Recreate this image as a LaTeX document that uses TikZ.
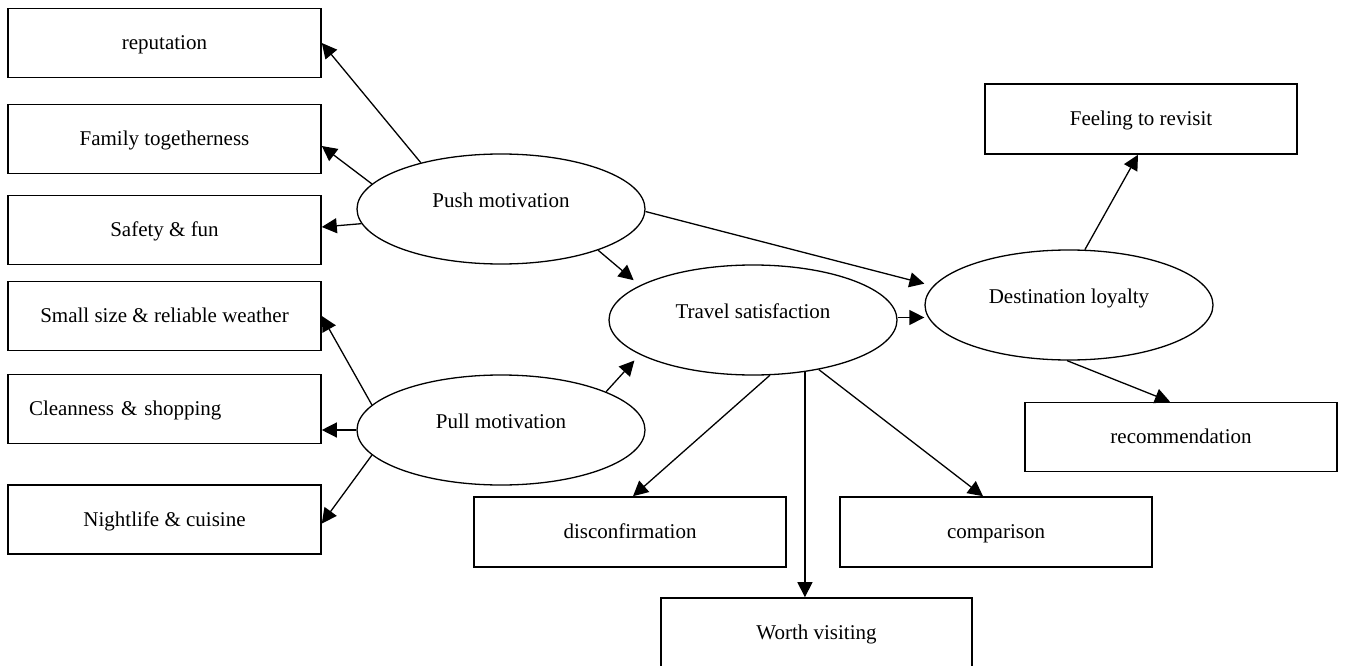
\documentclass[tikz,border=0pt]{standalone}
\usepackage{fontspec}
\setmainfont{Liberation Serif}
\usetikzlibrary{arrows.meta,shapes.geometric}
\begin{document}
\begin{tikzpicture}[x=1pt,y=-1pt,
  every node/.style={font=\fontsize{21}{25}\selectfont},
  itembox/.style={draw, rectangle, line width=1.6pt, minimum width=313pt,
    minimum height=69pt, inner sep=0pt, text height=17.5pt, text depth=4.5pt},
  construct/.style={draw, ellipse, line width=1.3pt, minimum width=288pt,
    minimum height=110pt, inner sep=0pt, text height=15.5pt, text depth=18pt},
  link/.style={line width=1.3pt, -{Triangle[length=15pt,width=15pt]}}]
\useasboundingbox (0,0) rectangle (1346,666);
\clip (0,0) rectangle (1346,666);

% indicator boxes on the left
\node[itembox] (rep)   at (164.5,43)    {reputation};
\node[itembox] (fam)   at (164.5,139)   {Family togetherness};
\node[itembox] (safe)  at (164.5,230)   {Safety \& fun};
\node[itembox] (small) at (164.5,316)   {Small size \& reliable weather};
\node[itembox, text width=271pt, inner xsep=21pt, align=left]
               (clean) at (164.5,409)   {Cleanness \& shopping};
\node[itembox] (night) at (164.5,519.5) {Nightlife \& cuisine};

% latent constructs
\node[construct] (push)   at (501,209)  {Push motivation};
\node[construct] (pull)   at (501,430)  {Pull motivation};
\node[construct] (travel) at (753,320)  {Travel satisfaction};
\node[construct] (dest)   at (1069,305) {Destination loyalty};

% indicator boxes on the right and bottom
\node[itembox, minimum width=312pt, minimum height=70pt] (feel)    at (1141,119)  {Feeling to revisit};
\node[itembox, minimum width=312pt]                      (recom)   at (1181,437)  {recommendation};
\node[itembox, minimum width=312pt, minimum height=70pt] (disconf) at (630,532)   {disconfirmation};
\node[itembox, minimum width=312pt, minimum height=70pt] (comp)    at (996,532)   {comparison};
\node[itembox, minimum width=311pt, minimum height=70pt] (worth)   at (816.5,633) {Worth visiting};

% push motivation indicators
\draw[link] (push.150) -- (rep.east);
\draw[link] (push.169) -- ([yshift=-7pt]fam.east);
\draw[link] (push.186) -- ([yshift=3pt]safe.east);

% pull motivation indicators
\draw[link] (pull.169) -- (small.east);
\draw[link] (pull.180) -- (pull.180 -| clean.east);
\draw[link] (pull.191) -- ([yshift=-4pt]night.east);

% structural paths
\draw[link, shorten >=8pt] (push.-23) -- (travel.163);
\draw[link, shorten >=8pt] (pull.20) -- (travel.197);
\draw[link, shorten >=9pt] (push.-1) -- (dest.172);
\draw[link] (travel.1) -- (travel.1 -| dest.west);

% destination loyalty indicators
\draw[link] (dest.74) -- ([xshift=-3pt]feel.south);
\draw[link] (dest.-92) -- ([xshift=-11pt]recom.north);

% travel satisfaction indicators
\draw[link] (travel.-73) -- ([xshift=3pt]disconf.north);
\draw[link] (travel.-45) -- (travel.-45 |- worth.north);
\draw[link] (travel.-37) -- ([xshift=-13pt]comp.north);
\end{tikzpicture}
\end{document}
